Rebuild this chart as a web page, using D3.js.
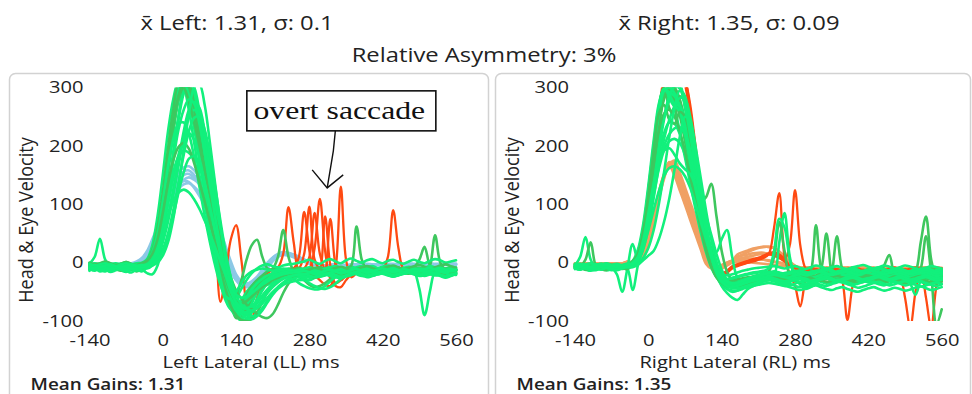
<!DOCTYPE html>
<html>
<head>
<meta charset="utf-8">
<script src="https://cdn.jsdelivr.net/npm/d3@7"></script>
<style>
  html, body { margin: 0; padding: 0; background: #fff; }
  svg { display: block; }
</style>
</head>
<body>
<svg id="chart" width="972" height="394"></svg>
<script>
// ---- sample grid (ms) shared by every trace ----
const timeMs = [-140,-130,-120,-110,-100,-90,-80,-70,-60,-50,-40,
  -30,-20,-10,0,10,20,30,40,50,60,
  70,80,90,100,110,120,130,140,150,160,
  170,180,190,200,210,220,230,240,250,260,
  270,280,290,300,310,320,330,340,350,360,
  370,380,390,400,410,420,430,440,450,460,
  470,480,490,500,510,520,530,540,550,560];

const xTickValues = [-140, 0, 140, 280, 420, 560];
const yTickValues = [-100, 0, 100, 200, 300];

const headerLeft = "x̄ Left: 1.31, σ: 0.1";
const headerRight = "x̄ Right: 1.35, σ: 0.09";
const headerAsymmetry = "Relative Asymmetry: 3%";
const meanGains = [1.31, 1.35];
const axisTitles = ["Left Lateral (LL) ms", "Right Lateral (RL) ms"];
const velocityTitle = "Head & Eye Velocity";
const noteText = "overt saccade";

// ---- Left lateral impulses: head velocity (deg/s) ----
const leftHead = [
  [-3,-2,-3,-4,-2,-3,-4,-3,-2,-1,2, 12,30,55,80,104,124,140,150,152,145, 135,120,100,75,45,15,-10,-28,-38,-40, -36,-28,-15,-2,8,14,16,15,12,8, 4,0,-3,-5,-5,-4,-3,-4,-5,-4, -3,-2,-3,-4,-3,-2,-3,-4,-3,-2, -2,-3,-4,-3,-2,-3,-4,-3,-2,-2],
  [-2,-4,-3,-2,-3,-5,-3,-2,-4,-2,3, 15,35,62,90,115,138,155,163,165,158, 146,128,105,78,48,18,-8,-26,-36,-38, -34,-26,-14,-2,9,15,18,17,14,10, 5,1,-2,-4,-5,-5,-4,-3,-4,-5, -4,-3,-2,-3,-4,-3,-2,-2,-3,-4, -3,-2,-3,-4,-3,-2,-2,-3,-4,-3],
  [-4,-3,-5,-4,-3,-4,-5,-4,-3,-2,0, 8,24,46,70,92,112,126,134,136,130, 120,106,88,66,40,14,-10,-26,-34,-36, -33,-26,-16,-5,5,11,13,12,9,5, 2,-2,-4,-6,-6,-5,-4,-5,-6,-5, -4,-3,-4,-5,-4,-3,-4,-5,-4,-3, -3,-4,-5,-4,-3,-4,-5,-4,-3,-3],
  [-3,-4,-3,-2,-4,-3,-2,-4,-3,-2,-1, 5,18,40,65,90,112,130,142,146,142, 134,120,102,80,55,28,2,-20,-32,-38, -38,-32,-22,-10,2,10,14,15,13,9, 5,1,-2,-4,-5,-4,-4,-5,-4,-3, -3,-4,-5,-4,-3,-3,-4,-5,-4,-3, -3,-4,-3,-3,-4,-5,-4,-3,-3,-4],
  [-2,-3,-2,-3,-4,-2,-3,-4,-2,-1,4, 16,36,60,86,110,132,148,156,158,150, 138,122,100,74,44,14,-12,-30,-40,-42, -38,-30,-18,-5,6,13,16,16,13,9, 5,1,-2,-4,-5,-4,-3,-4,-5,-4, -3,-3,-4,-4,-3,-2,-3,-4,-3,-3, -2,-3,-4,-3,-3,-3,-4,-3,-2,-3],
  [-3,-2,-4,-3,-2,-3,-4,-2,-1,2,8, 20,40,62,84,104,120,132,140,138,128, 114,98,80,58,34,8,-15,-30,-37,-37, -32,-24,-12,0,8,12,14,13,10,6, 2,-1,-3,-5,-5,-4,-3,-4,-5,-4, -3,-2,-3,-4,-3,-2,-3,-4,-3,-2, -2,-3,-4,-3,-2,-3,-4,-3,-2,-2]
];

// ---- Left lateral impulses: eye velocity, impulses flagged with saccades ----
const leftSaccade = [
  [-6,-8,-5,-7,-9,-6,-4,-7,-8,-5,-3, 2,15,45,100,170,240,290,310,300,275, 240,200,150,60,-67,-20,40,64,5,-70, -95,-60,-30,-18,-12,-8,15,95,35,-15, -18,-14,-12,-15,-17,-13,-11,-14,-16,-13, -10,-12,-15,-13,-10,-12,10,90,25,-12, -14,-11,-13,-15,-12,-10,-13,-15,-12,-14],
  [-8,-5,-9,-7,-4,-6,-9,-8,-5,-7,-6, -1,12,40,92,162,230,282,305,295,260, 205,150,95,45,-5,-42,-68,-80,-75,-62, -48,-38,-30,-24,-20,-16,-14,-12,-10,10, 87,20,-20,-30,-38,-40,-10,130,5,-25, -18,-14,-12,-15,-17,-13,-11,-14,-16,-13, -11,-14,-16,-13,-10,-12,-15,-13,-11,-14],
  [-10,-7,-11,-8,-6,-9,-12,-9,-7,-10,-8, -3,10,35,88,158,228,280,302,292,255, 200,145,92,42,-8,-45,-70,-85,-80,-66, -52,-40,-32,-26,-22,-18,-16,-14,-12,-10, 15,96,5,-10,79,-5,-35,-30,-18,-14, -16,-13,-11,-14,-16,-13,-11,-13,-15,-12, -10,-13,-15,-12,-10,-12,-14,-12,-10,-13],
  [-5,-7,-4,-6,-8,-5,-3,-6,-7,-4,-2, 3,18,48,102,172,242,292,312,302,265, 210,155,100,50,2,-38,-64,-78,-72,-58, -45,-35,-28,-22,-18,-15,-13,-11,-10,-12, -14,-10,25,109,20,-28,-40,-42,-30,-20, -15,-13,-11,-14,-16,-13,-11,-14,-15,-12, -10,-13,-15,-12,-10,-12,-14,-12,-10,-13],
  [-7,-9,-6,-8,-10,-7,-5,-8,-9,-6,-4, 0,14,42,96,166,236,286,308,298,262, 206,152,98,46,-4,-40,-66,-80,-76,-62, -48,-37,-29,-23,-19,-16,-14,-12,-11,-12, -10,10,85,15,-10,75,-5,-30,-22,-16, -14,-12,-15,-17,-14,-12,-14,-16,-13,-11, -12,-14,-16,-13,-11,-13,-15,-13,-11,-12]
];

// ---- Left lateral impulses: eye velocity ----
const leftEye = [
  [-5,-3,-6,-4,-8,-5,-3,-6,-4,-5,-2, 3,15,45,100,170,240,290,315,300,255, 200,145,95,45,0,-40,-70,-85,-80,-65, -50,-38,-30,-24,-20,-18,-15,-14,-16,-14, -12,-15,-18,-14,-10,-12,-15,-13,-10,-12, -14,-12,-10,-13,-15,-12,-10,-14,-16,-12, -10,-14,-18,-12,-10,-15,-13,-11,-14,-12],
  [-8,-10,-7,-12,-9,-8,-11,-7,-10,-8,-5, 5,30,80,150,225,280,310,300,260,205, 150,100,50,5,-35,-65,-80,-78,-65,-50, -40,-32,-26,-22,-20,-17,-19,-22,-18,-15, -17,-20,-16,-13,-15,-18,-20,-17,-14,-16, -18,-15,-13,-16,-19,-17,-14,-12,-15,-18, -16,-13,-12,-16,-20,-17,-14,-15,-18,-16],
  [-2,10,41,5,-6,-3,-5,-2,-4,-6,-8, -5,0,20,60,120,190,250,295,310,290, 245,190,130,75,25,-20,-55,-80,-95,-88, -70,-50,-35,-25,-18,-15,-12,-10,-12,-15, -18,-22,-20,-15,-10,-8,-10,-12,-9,-7, -10,-12,-8,-6,-9,-11,-10,-8,-12,-10, -8,-11,-14,-10,-7,-9,-12,-10,-8,-10],
  [-10,-14,-9,-12,-15,-10,-13,-16,-12,-9,-12, -18,-20,-5,40,110,185,250,300,315,280, 230,175,115,60,10,-35,-68,-90,-100,-95, -80,-62,-45,-32,-25,-20,-18,-20,-22,-25, -28,-30,-26,-20,-16,-14,-18,-20,-17,-14, -16,-19,-22,-18,-14,-16,-20,-22,-18,-15, -17,-20,-18,-15,-19,-22,-20,-17,-19,-21],
  [-3,-6,-4,-2,-5,-7,-3,-1,-4,-6,-3, 0,12,40,95,165,235,285,305,295,250, 195,140,90,40,-5,-40,-60,-55,-30,5, 30,39,10,-10,-12,-10,-12,-14,-11,-9, -12,-14,-10,-8,-11,-13,-10,-9,-12,-14, -11,-9,-12,-15,-12,-10,-13,-11,-9,-12, -14,-11,-9,-13,-15,-12,-10,-13,-11,-12],
  [-12,-9,-13,-10,-8,-11,-14,-10,-12,-15,-11, -8,5,30,85,155,225,280,310,305,270, 215,160,105,55,5,-30,-58,-75,-70,-55, -40,-30,-22,-15,-10,10,56,10,-15,-22, -30,-38,-42,-40,-35,-28,-20,-18,-20,-16, -14,-17,-20,-16,-13,-15,-18,-16,-14,-17, -19,-16,-14,-18,-20,-17,-15,-18,-16,-19],
  [-6,-8,-5,-9,-7,-4,-8,-10,-6,-5,-7, -4,8,35,90,160,230,280,300,290,245, 190,135,85,35,-10,-45,-72,-88,-85,-70, -55,-42,-32,-25,-20,-16,-14,-12,-15,-18, -20,-17,-14,-12,-15,-18,-16,-13,-11,-5, 62,5,-12,-15,-13,-10,-12,-14,-11,-9, -12,-14,-11,-9,-12,-15,-13,-10,-12,-14],
  [-9,-11,-8,-6,-10,-12,-9,-7,-10,-13,-9, -6,6,32,88,158,228,282,312,300,258, 205,150,98,48,0,-38,-65,-82,-88,-80, -66,-50,-38,-30,-24,-20,-18,-16,-18,-20, -22,-19,-16,-14,-17,-20,-18,-15,-13,-16, -18,-15,-13,-16,-18,-14,-12,-15,-17,-14, -12,-16,-45,-90,-50,-15,-12,-16,-14,-12],
  [-7,-4,-8,-11,-6,-3,-7,-9,-5,-8,-6, -2,10,38,92,162,232,284,306,296,252, 198,142,92,42,-3,-42,-70,-95,-92,-78, -60,-45,-34,-26,-21,-17,-15,-13,-14,-16, -14,-12,-15,-17,-14,-11,-13,-16,-18,-15, -12,-14,-17,-15,-12,-10,-13,-15,-12,-10, -10,-8,5,27,-5,47,0,-12,-10,-13],
  [-4,-7,-10,-6,-3,-6,-9,-5,-7,-10,-8, -10,-5,10,50,110,180,245,290,312,300, 260,205,150,95,40,-10,-50,-80,-95,-98, -85,-65,-48,-35,-27,-22,-20,-18,-17,-19, -21,-24,-22,-18,-15,-17,-19,-16,-14,-17, -19,-16,-14,-17,-20,-18,-15,-13,-16,-19, -17,-14,-16,-19,-17,-14,-16,-18,-15,-13],
  [-11,-13,-10,-14,-12,-9,-12,-15,-11,-13,-10, -6,8,38,95,168,238,288,308,292,248, 192,138,88,38,-8,-45,-70,-82,-75,-60, -45,-35,-28,-22,-18,-15,-13,-20,-28,-35, -40,-44,-46,-45,-40,-32,-24,-18,-15,-13, -15,-18,-16,-13,-11,-14,-17,-15,-12,-14, -16,-13,-11,-14,-17,-15,-12,-14,-16,-13],
  [-1,-4,-2,0,-3,-5,-2,1,-3,-1,0, 6,22,55,115,190,258,300,310,280,230, 175,120,70,22,-20,-50,-65,-60,-45,-30, -18,-10,-5,-3,-6,-8,-5,-3,-2,0, 2,5,1,-2,3,6,2,-1,4,7, 3,0,4,6,2,-1,3,5,1,-2, 2,5,1,-1,3,6,4,0,2,4],
  [-14,-10,-15,-12,-16,-13,-10,-14,-17,-12,-15, -8,15,50,110,180,250,295,310,290,240, 185,130,75,25,-25,-60,-80,-90,-85,-72, -58,-45,-35,-28,-22,-19,-17,-15,-17,-19, -17,-15,-18,-20,-18,-16,-14,-17,-19,-16, -14,-16,-19,-21,-18,-15,-17,-20,-18,-15, -17,-19,-16,-14,-17,-20,-18,-16,-19,-17],
  [-6,-9,-12,-8,-5,-8,-11,-7,-4,-7,-5, -8,0,15,40,80,125,175,225,262,275, 265,225,170,110,50,0,-40,-65,-75,-70, -60,-48,-38,-30,-24,-20,-17,-15,-14,-16, -17,-14,-12,-15,-17,-14,-11,-13,-15,-12, -10,-13,-15,-12,-10,-12,-14,-11,-9,-12, -14,-12,-10,-12,-14,-16,-13,-11,-13,-12],
  [-7,-5,-9,-6,-4,-7,-10,-8,-5,-3,-6, -2,12,42,98,168,236,286,308,300,262, 210,150,95,45,-5,-45,-75,-90,-98,-100, -96,-85,-68,-50,-38,-30,-25,-22,-20,-18, -20,-23,-26,-24,-20,-17,-15,-13,-15,-17, -15,-12,-10,-13,-16,-14,-11,-9,-12,-15, -13,-10,-13,-16,-14,-11,-9,-12,-14,-11],
  [-4,-6,-3,-5,-7,-4,-2,-5,-7,-4,-3, -2,8,28,60,100,145,185,212,222,210, 180,140,95,50,8,-30,-58,-75,-85,-90, -92,-88,-78,-65,-52,-42,-34,-28,-24,-22, -20,-18,-21,-24,-22,-19,-17,-20,-23,-21, -18,-16,-19,-22,-20,-17,-15,-18,-21,-19, -16,-19,-22,-20,-17,-15,-18,-21,-19,-17],
  [-9,-7,-10,-12,-8,-6,-9,-11,-8,-10,-7, -5,0,12,35,70,115,165,215,250,262, 245,205,155,100,45,-5,-45,-70,-82,-85, -80,-70,-58,-46,-36,-28,-22,-20,-22,-25, -27,-24,-21,-18,-20,-23,-25,-22,-19,-17, -20,-23,-21,-18,-16,-19,-22,-24,-21,-18, -16,-19,-22,-20,-17,-19,-22,-25,-22,-19],
  [-3,-1,-4,-6,-3,-1,-4,-6,-3,-2,-1, 0,10,32,70,115,155,182,192,188,178, 172,160,125,75,25,-20,-50,-65,-68,-62, -55,-48,-42,-38,-34,-30,-26,-22,-20,-18, -16,-14,-17,-19,-16,-13,-11,-14,-17,-15, -12,-10,-13,-16,-14,-11,-9,-12,-15,-13, -10,-13,-16,-14,-11,-9,-12,-15,-13,-11],
  [-5,-8,-6,-3,-6,-9,-7,-4,-6,-8,-4, 4,22,60,120,195,262,305,300,275,240, 200,160,118,78,40,5,-25,-48,-62,-72, -80,-88,-93,-95,-88,-72,-52,-36,-26,-20, -18,-21,-24,-22,-19,-17,-20,-23,-21,-18, -16,-19,-22,-20,-17,-15,-18,-21,-19,-16, -14,-17,-20,-18,-15,-13,-16,-19,-17,-15],
  [-12,-10,-13,-15,-11,-9,-12,-14,-11,-13,-9, 2,18,50,105,165,212,238,240,220,180, 130,80,35,-5,-38,-58,-62,-50,-35,-22, -15,-12,-10,-12,-14,-12,-10,-12,-14,-12, -10,-8,-11,-13,-10,-8,-6,-9,-12,-10, -8,-6,-9,-12,-10,-7,-5,-8,-11,-9, -7,-10,-12,-9,-6,-8,-11,-13,-10,-8],
  [-6,-4,-7,-9,-6,-3,-5,-8,-6,-4,-6, -3,6,25,62,115,175,228,262,280,272, 238,188,132,78,28,-15,-48,-72,-88,-95, -97,-92,-82,-68,-55,-45,-38,-34,-32,-30, -30,-35,-40,-44,-45,-42,-36,-28,-22,-18, -16,-19,-22,-20,-17,-15,-18,-21,-19,-16, -14,-17,-20,-23,-20,-17,-15,-18,-21,-19],
  [0,-3,-1,2,-1,-4,-2,1,-2,-4,-1, 3,15,40,85,135,175,198,205,195,170, 138,105,70,35,2,-28,-52,-66,-70,-66, -58,-50,-42,-36,-30,-26,-22,-20,-18,-17, -15,-12,-9,-11,-14,-12,-9,-7,-10,-13, -11,-8,-6,-9,-12,-10,-7,-5,-8,-11, -9,-6,-4,-7,-10,-8,-5,-3,-6,-9],
  [-10,-8,-11,-13,-10,-7,-10,-12,-9,-11,-8, -6,-4,5,22,50,90,138,185,225,248, 250,228,185,130,72,18,-25,-55,-72,-80, -82,-78,-70,-60,-50,-42,-35,-30,-27,-25, -23,-26,-24,-21,-19,-22,-25,-27,-24,-21, -19,-22,-25,-23,-20,-18,-21,-24,-22,-19, -17,-20,-23,-21,-18,-20,-23,-26,-23,-20],
  [-8,-10,-7,-9,-12,-9,-6,-8,-11,-9,-7, -8,-5,0,12,35,75,130,195,255,300, 305,270,205,135,65,5,-40,-68,-82,-88, -85,-76,-64,-52,-42,-34,-28,-24,-22,-20, -19,-22,-25,-23,-20,-18,-21,-24,-22,-19, -17,-20,-23,-21,-18,-16,-19,-22,-20,-17, -15,-18,-21,-19,-16,-18,-21,-24,-21,-18],
  [-2,-5,-3,-1,-4,-6,-3,-1,-3,-5,-4, -6,-2,6,20,45,80,120,155,178,182, 165,135,95,55,15,-22,-50,-68,-76,-78, -74,-66,-56,-46,-38,-32,-27,-24,-22,-21, -20,-17,-14,-16,-19,-17,-14,-12,-15,-18, -16,-13,-11,-14,-17,-15,-12,-10,-13,-16, -14,-11,-13,-16,-14,-11,-9,-12,-15,-13],
  [-6,-4,-7,-5,-3,-6,-8,-5,-3,-6,-4, -4,4,20,48,80,105,120,125,120,108, 92,72,50,26,2,-22,-42,-55,-60,-58, -52,-45,-38,-32,-27,-23,-20,-18,-17,-16, -14,-16,-19,-17,-14,-12,-15,-18,-16,-13, -11,-14,-17,-15,-12,-10,-13,-16,-14,-11, -13,-16,-14,-11,-9,-12,-15,-17,-14,-12]
];

// ---- Right lateral impulses: head velocity ----
const rightHead = [
  [-2,-3,-1,-2,-3,-2,-1,-2,-3,-1,0, 0,3,12,40,80,120,150,165,149,124, 99,73,48,23,-2,-10,-8,-4,0,3, 5,6,7,7,6,5,3,1,0,-2, -5,-8,-10,-9,-8,-10,-12,-11,-9,-10, -12,-11,-9,-10,-12,-13,-11,-10,-12,-13, -11,-9,-10,-12,-11,-9,-8,-10,-12,-11],
  [-1,-2,-3,-2,-1,-2,-3,-2,-1,-2,1, 0,3,12,40,80,120,152,168,154,129, 104,78,53,28,3,-9,-9,-5,0,3, 9,12,14,16,17,17,15,12,8,3, -3,-7,-9,-8,-10,-12,-10,-8,-9,-11, -10,-8,-9,-11,-12,-10,-9,-11,-13,-12, -10,-9,-11,-12,-10,-8,-9,-11,-12,-10],
  [-3,-2,-1,-3,-2,-1,-2,-3,-2,-1,0, 0,2,10,36,76,116,150,170,159,134, 109,83,58,33,8,-8,-10,-6,-1,3, 3,2,1,0,-1,-2,-3,-4,-5,-6, -7,-8,-10,-12,-11,-9,-10,-12,-13,-11, -9,-10,-12,-13,-11,-9,-10,-12,-11,-9, -10,-12,-13,-11,-9,-10,-12,-13,-11,-10],
  [-2,-1,-2,-3,-1,-2,-3,-1,-2,-3,1, 0,2,10,36,76,116,150,172,164,139, 114,88,63,38,13,-5,-10,-7,-2,2, 14,18,21,24,26,27,27,25,18,8, 0,-6,-9,-11,-10,-8,-9,-11,-12,-10, -8,-9,-11,-12,-10,-8,-9,-11,-12,-10, -9,-11,-12,-10,-8,-9,-11,-12,-10,-9],
  [-1,-3,-2,-1,-2,-3,-2,-1,-3,-2,1, 0,2,9,33,72,112,148,172,168,144, 119,93,68,43,18,-3,-10,-8,-3,2, 0,2,3,4,5,5,4,2,0,-3, -6,-9,-11,-10,-8,-9,-11,-13,-12,-10, -11,-13,-12,-10,-9,-11,-13,-12,-10,-11, -13,-12,-10,-9,-11,-13,-12,-10,-11,-12],
  [-2,-3,-1,-2,-3,-1,-2,-3,-1,-2,2, 0,1,8,30,70,110,146,170,172,149, 124,98,73,48,23,0,-9,-9,-4,1, 10,14,18,22,25,27,27,25,19,11, 2,-5,-8,-10,-9,-8,-10,-12,-11,-9, -10,-12,-11,-9,-8,-10,-12,-11,-9,-10, -12,-11,-9,-8,-10,-12,-11,-9,-10,-11],
  [-3,-1,-2,-3,-2,-1,-3,-2,-1,-2,2, 0,1,8,30,68,108,144,168,175,154, 129,103,78,53,28,4,-8,-10,-5,0, 6,8,10,12,14,15,15,13,9,3, -4,-7,-9,-11,-10,-8,-9,-11,-12,-10, -9,-11,-12,-10,-9,-11,-12,-10,-9,-10, -11,-12,-10,-9,-11,-12,-10,-9,-10,-11]
];

// ---- Right lateral impulses: eye velocity, impulses flagged with saccades ----
const rightSaccade = [
  [-5,-8,-6,-4,-7,-9,-5,-3,-6,-8,-5, 0,12,45,100,170,245,310,345,330,335, 315,270,200,130,60,15,-10,-20,-15,-8, -5,-2,0,2,5,8,15,60,119,10, -20,-40,-75,-30,-10,-12,-15,-13,-10,-12, -14,-11,-9,-12,-15,-13,-10,-12,-14,-11, -9,-12,-15,-13,-10,-12,-14,-11,-9,-12],
  [-7,-5,-8,-10,-6,-4,-7,-9,-6,-4,-7, 2,15,50,108,180,255,318,340,325,332, 305,250,185,120,55,12,-12,-22,-18,-10, -6,-3,0,3,6,10,14,16,12,5, 30,124,30,-10,-18,-15,-12,-14,-16,-13, -30,-98,-40,-15,-12,-14,-16,-13,-11,-14, -16,-13,-11,-14,-16,-13,-11,-13,-15,-12],
  [-6,-9,-7,-5,-8,-10,-7,-5,-8,-6,-4, -1,10,40,95,162,238,305,342,320,325, 310,258,190,125,58,14,-8,-18,-14,-6, -3,0,3,6,8,12,16,18,14,6, -5,-10,-12,-15,-13,-11,-14,-16,-13,-11, -13,-15,-12,-10,-13,-15,-12,-10,-12,-14, -12,-20,-60,-110,-50,-10,-60,-110,-40,-10],
  [-4,-7,-5,-8,-6,-3,-6,-8,-5,-7,-4, 1,14,48,104,175,250,312,348,338,335, 315,262,195,128,58,12,-10,-20,-16,-8, -4,-1,2,5,8,11,14,12,8,2, -6,-10,-13,-11,-9,-12,-14,-11,-9,-12, -14,-11,-9,-12,-14,-11,-9,-11,-13,-10, -8,-11,-13,-10,-8,-11,-13,-10,-8,-10]
];

// ---- Right lateral impulses: eye velocity ----
const rightEye = [
  [-5,10,44,5,-8,-6,-4,-7,-9,-6,-4, 0,5,35,80,150,230,295,290,265,225, 180,135,92,52,18,-8,-25,-32,-35,-33, -30,-28,-26,-25,-24,-22,-20,-18,-20,-22, -24,-21,-19,-22,-25,-23,-20,-18,-21,-24, -22,-19,-17,-20,-23,-21,-18,-20,-23,-25, -22,-20,-18,-21,-24,-22,-19,-21,-23,-20],
  [-8,-6,-10,-7,-5,-8,-11,-6,-4,-7,-9, -4,8,40,95,155,210,250,278,298,305, 265,205,145,90,45,8,-18,-34,-42,-40, -36,-32,-30,-28,-26,-24,-22,-25,-28,-30, -27,-24,-22,-25,-28,-30,-27,-24,-22,-25, -28,-30,-27,-25,-28,-31,-29,-26,-24,-27, -30,-28,-25,-27,-30,-32,-29,-26,-28,-30],
  [-10,-7,5,35,-5,-9,-12,-8,-6,-10,-8, -2,12,50,115,190,260,300,265,250,285, 275,215,150,105,112,135,80,20,-15,-30, -35,-33,-30,-28,-25,-22,-20,-22,-25,-28, -30,-27,-24,-21,-24,-27,-25,-22,-20,-23, -26,-24,-21,-19,-22,-25,-23,-20,-22,-25, -23,-20,-22,-25,-27,-24,-21,-23,-26,-24],
  [-6,-9,-5,-8,-10,-7,-5,-9,-20,-50,-10, 32,5,38,100,175,245,290,298,285,258, 212,162,112,66,26,-4,-24,-38,-45,-50, -48,-42,-36,-30,-27,-25,-22,-20,-23,-26, -28,-31,-35,-40,-38,-33,-28,-25,-27,-30, -32,-29,-26,-28,-31,-34,-31,-28,-26,-29, -32,-35,-31,-28,-30,-33,-36,-32,-29,-31],
  [-4,-6,-8,-5,-3,-6,-9,-7,-4,-6,-10, -47,-5,30,95,170,242,288,302,292,262, 218,168,118,72,28,-2,-18,-28,-30,-28, -25,-22,-20,-18,-17,-15,-16,-18,-20,-18, -16,-14,-17,-20,-18,-15,-13,-16,-19,-17, -15,-12,-14,-17,-15,-12,-10,-13,-16,-14, -12,-15,-17,-14,-11,-13,-16,-14,-12,-15],
  [-9,-7,-11,-8,-6,-9,-12,-10,-7,-9,-6, 0,15,55,120,195,265,298,282,268,272, 242,192,142,96,55,25,18,40,56,10, -25,-30,-28,-25,-22,-20,-18,-20,35,85, 10,-20,-25,-22,-20,-23,-26,-24,-21,-19, -22,-25,-23,-20,-18,-21,-24,-22,-19,-17, -20,-23,-21,-18,-20,-23,-25,-22,-19,-21],
  [-7,-10,-6,-9,-11,-8,-6,-10,-8,-5,-7, -3,10,45,108,182,252,292,296,280,252, 208,158,108,62,22,-6,-22,-30,-33,-31, -29,-27,-25,-24,-22,-20,-15,10,70,20, -20,-24,-22,-25,-15,64,-10,-25,-22,-20, -23,-26,-24,-21,-19,-22,-25,-23,-20,-18, -21,-24,-22,-19,-21,-24,-26,-23,-20,-22],
  [-5,-8,-11,-7,-4,-7,-10,-6,-8,-11,-9, -5,5,32,90,165,235,280,300,298,275, 235,185,135,88,45,12,-12,-28,-36,-38, -35,-32,-29,-27,-25,-23,-21,-19,-21,-24, -22,-20,-18,-22,-25,-23,-10,50,-15,45, -10,-22,-26,-24,-21,-19,-22,-25,-23,-20, -18,-21,-24,-22,-19,-21,-24,-26,-23,-20],
  [-6,-4,-7,-10,-8,-5,-3,-6,-9,-7,-5, 0,18,58,125,200,268,300,290,275,262, 225,175,125,80,38,5,-16,-28,-34,-35, -33,-30,-27,-24,-22,-20,-18,-17,-19,-21, -23,-21,-19,-22,-24,-22,-20,-18,-20,-22, -24,-22,-20,-18,-21,-24,-22,-19,-5,13, -20,-25,-22,-20,-15,35,79,5,-25,-30],
  [-8,-6,-9,-12,-9,-6,-8,-11,-9,-6,-8, -6,4,30,88,160,232,285,305,300,280, 240,190,138,90,48,14,-10,-26,-35,-38, -36,-33,-30,-28,-26,-24,-22,-24,-27,-29, -27,-25,-28,-31,-29,-26,-24,-27,-30,-28, -26,-29,-32,-30,-27,-25,-28,-31,-29,-26, -24,-27,-30,-28,-25,-10,45,-20,-105,-80],
  [-10,-8,-12,-9,-7,-10,-13,-11,-8,-10,-7, -1,14,52,118,192,258,296,292,285,270, 245,195,145,95,50,10,-20,-40,-52,-60, -64,-55,-45,-40,-36,-32,-30,-28,-30,-33, -36,-40,-42,-38,-34,-31,-33,-36,-34,-31, -29,-32,-35,-33,-30,-28,-31,-34,-32,-29, -27,-30,-33,-31,-28,-30,-33,-35,-32,-30],
  [-3,-6,-4,-7,-9,-5,-2,-5,-8,-6,-3, 3,22,65,132,208,272,298,285,270,258, 220,170,122,78,38,6,-14,-24,-28,-26, -24,-22,-20,-18,-16,-14,-10,20,75,60, 5,-25,-38,-45,-42,-35,-28,-24,-20,-17, -19,-22,-20,-17,-15,-18,-21,-19,-16,-14, -17,-20,-18,-15,-17,-20,-22,-19,-16,-18],
  [-2,-5,-3,-6,-8,-4,-1,-4,-7,-5,-2, -6,2,25,75,140,200,250,285,302,300, 270,215,160,108,60,22,-5,-18,-22,-20, -17,-14,-12,-10,-9,-8,-7,-6,-8,-10, -8,-6,-9,-11,-8,-5,-7,-10,-8,-6, -9,-11,-8,-6,-4,-7,-10,-8,-5,-7, -10,-8,-5,-7,-10,-12,-9,-6,-8,-10],
  [-9,-12,-8,-11,-13,-10,-7,-10,-12,-9,-11, -3,12,48,112,186,254,294,300,290,265, 225,175,125,80,40,6,-18,-34,-44,-48, -48,-45,-42,-40,-38,-36,-35,-36,-38,-40, -42,-45,-47,-44,-41,-39,-42,-45,-47,-44, -42,-45,-48,-50,-47,-44,-42,-45,-48,-46, -43,-45,-48,-46,-43,-41,-44,-47,-45,-42],
  [-7,-5,-8,-6,-4,-7,-9,-6,-5,-8,-6, 1,16,55,122,196,262,298,288,272,268, 238,188,138,92,50,16,-8,-22,-28,-27, -24,-21,-19,-17,-16,-15,-17,-19,-21,-19, -17,-20,-22,-19,-16,-14,-17,-20,-18,-15, -13,-16,-19,-17,-14,-12,-15,-18,-16,-13, -11,-15,-20,-35,-55,-30,-15,-18,-20,-16],
  [-6,-8,-5,-7,-10,-8,-5,-7,-9,-6,-8, 0,8,35,80,135,185,222,240,238,220, 190,150,108,68,30,0,-20,-32,-38,-40, -38,-35,-32,-30,-28,-26,-24,-26,-29,-31, -29,-26,-24,-27,-30,-28,-25,-23,-26,-29, -27,-24,-22,-25,-28,-26,-23,-21,-24,-27, -25,-22,-25,-28,-26,-23,-21,-24,-27,-25],
  [-3,-5,-8,-6,-3,-5,-7,-4,-2,-5,-7, -2,5,28,68,115,160,192,208,212,205, 185,155,118,78,40,8,-15,-28,-34,-35, -33,-30,-27,-24,-21,-19,-17,-15,-17,-19, -17,-15,-13,-16,-18,-15,-12,-10,-13,-16, -14,-11,-9,-12,-15,-13,-10,-8,-11,-14, -12,-10,-13,-16,-14,-11,-9,-12,-15,-13],
  [-8,-11,-9,-6,-8,-11,-13,-10,-7,-9,-6, 2,15,52,115,190,255,270,245,238,258, 250,210,158,105,58,20,-8,-25,-32,-34, -34,-32,-30,-28,-27,-26,-28,-30,-32,-30, -28,-31,-34,-32,-29,-27,-30,-33,-31,-28, -26,-29,-32,-35,-33,-30,-28,-31,-34,-32, -29,-32,-35,-33,-30,-28,-31,-34,-36,-33],
  [-5,-3,-6,-8,-5,-2,-4,-7,-9,-6,-4, -4,2,22,60,110,165,212,245,268,282, 280,250,200,145,90,40,2,-22,-35,-40, -42,-40,-38,-36,-34,-32,-30,-32,-35,-37, -39,-36,-33,-30,-32,-35,-38,-40,-37,-34, -32,-35,-38,-36,-33,-31,-34,-37,-39,-36, -33,-36,-39,-37,-34,-32,-35,-38,-40,-37],
  [-11,-9,-12,-14,-11,-8,-10,-13,-11,-9,-10, -1,6,30,72,122,168,200,220,230,232, 220,192,150,112,80,48,15,-12,-30,-38, -40,-38,-35,-32,-29,-27,-25,-23,-25,-27, -25,-22,-20,-23,-26,-24,-21,-19,-22,-25, -23,-20,-18,-21,-24,-22,-19,-17,-20,-23, -21,-18,-21,-24,-22,-19,-17,-20,-23,-21],
  [-7,-9,-12,-10,-7,-9,-11,-8,-6,-9,-11, 1,12,45,100,165,225,255,262,250,225, 190,148,105,62,25,-5,-25,-35,-40,-42, -41,-39,-36,-33,-30,-28,-26,-24,-26,-28, -30,-28,-25,-23,-26,-29,-31,-28,-25,-23, -25,-28,-30,-27,-24,-22,-25,-28,-30,-27, -24,-27,-30,-28,-25,-23,-26,-29,-31,-28],
  [-4,-6,-3,-1,-4,-6,-3,-5,-7,-4,-2, -3,4,26,70,128,190,245,282,302,298, 268,218,160,105,55,15,-12,-28,-36,-38, -36,-33,-30,-27,-24,-21,-19,-17,-19,-21, -19,-17,-15,-18,-20,-17,-14,-12,-15,-18, -16,-13,-11,-14,-17,-15,-12,-10,-13,-16, -14,-11,-14,-17,-15,-12,-10,-13,-16,-14],
  [-9,-7,-10,-12,-9,-7,-9,-12,-10,-8,-6, 0,10,38,84,135,172,192,196,185,170, 160,152,130,95,55,18,-10,-26,-34,-36, -35,-33,-31,-29,-27,-25,-23,-21,-23,-25, -27,-30,-33,-36,-34,-31,-28,-26,-29,-32, -34,-37,-40,-43,-41,-38,-35,-33,-36,-39, -37,-34,-32,-35,-38,-41,-39,-36,-34,-37],
  [-7,-5,-8,-10,-7,-4,-6,-9,-7,-5,-8, -6,-2,8,25,55,100,155,215,265,295, 285,235,170,110,55,12,-18,-34,-40,-42, -40,-37,-34,-31,-29,-27,-25,-27,-30,-32, -30,-27,-25,-28,-31,-29,-26,-24,-27,-30, -28,-25,-23,-26,-29,-27,-24,-22,-25,-28, -26,-23,-26,-29,-27,-24,-22,-25,-28,-26],
  [-4,-2,-5,-7,-4,-2,-5,-7,-4,-6,-3, -2,6,25,55,90,122,148,162,165,160, 148,128,100,70,40,12,-10,-24,-32,-35, -34,-31,-28,-25,-22,-20,-18,-16,-18,-20, -18,-16,-19,-22,-20,-17,-15,-18,-21,-19, -17,-15,-18,-21,-19,-16,-14,-17,-20,-18, -16,-14,-17,-20,-18,-15,-13,-16,-19,-17],
  [-10,-12,-9,-7,-10,-12,-9,-11,-13,-10,-8, -8,-4,4,12,20,40,70,110,160,215, 250,240,190,130,70,20,-15,-32,-40,-44, -44,-42,-39,-36,-33,-30,-28,-30,-33,-35, -33,-30,-28,-31,-34,-32,-29,-27,-30,-33, -31,-28,-26,-29,-32,-30,-27,-25,-28,-31, -29,-26,-29,-32,-30,-27,-25,-28,-31,-29]
];

// traces drawn in the duller green
const dullLeft = [4, 5, 6, 8, 14, 18, 21];
const dullRight = [2, 6, 7, 8, 9, 17, 20];

// ---- layout & style ----
const W = 972, H = 394;
const SX = 1.22;                       // horizontal text stretch
const UI = "'Open Sans', 'Noto Sans', sans-serif";
const TEXT = "#222";
const C = {
  eye: "#12F07C", eyeDull: "#3EC75E", sacc: "#FF4A12",
  headL: "#8CC8E6", headR: "#F0A064", frame: "#d2d2d2"
};
const LW = 2.6;

const svg = d3.select("#chart");
svg.append("rect").attr("width", W).attr("height", H).attr("fill", "#fff");

function stretched(sel, x, y, str, o = {}) {
  return sel.append("text")
    .attr("transform", `translate(${x},${y}) scale(${o.sx || SX},1)`)
    .attr("text-anchor", o.anchor || "middle")
    .style("font-family", o.family || UI)
    .style("font-size", (o.size || 16.5) + "px")
    .style("font-weight", o.weight || 400)
    .attr("fill", o.fill || TEXT)
    .text(str);
}

// headers
stretched(svg, 237, 30, headerLeft, { size: 19.5 });
stretched(svg, 729, 30, headerRight, { size: 19.5 });
stretched(svg, 484, 62, headerAsymmetry, { size: 19.5 });

const panels = [
  { id: "L", head: leftHead, sacc: leftSaccade, eye: leftEye, dull: dullLeft, headColor: C.headL,
    frame: [9.5, 488.5], range: [89.5, 456], yTitleX: 26, gain: meanGains[0], title: axisTitles[0] },
  { id: "R", head: rightHead, sacc: rightSaccade, eye: rightEye, dull: dullRight, headColor: C.headR,
    frame: [495.5, 970.5], range: [575, 941.7], yTitleX: 512, gain: meanGains[1], title: axisTitles[1] }
];

const yRange = [321, 87.5];

panels.forEach(p => {
  const g = svg.append("g");
  // panel frame (runs past the bottom edge of the view)
  g.append("rect")
    .attr("x", p.frame[0]).attr("y", 73.5)
    .attr("width", p.frame[1] - p.frame[0]).attr("height", 400)
    .attr("rx", 6).attr("fill", "none")
    .attr("stroke", C.frame).attr("stroke-width", 1.5);

  const x = d3.scaleLinear().domain([-140, 560]).range(p.range);
  const y = d3.scaleLinear().domain([-100, 300]).range(yRange);

  const clipId = "clip" + p.id;
  svg.append("clipPath").attr("id", clipId).append("rect")
    .attr("x", x(-140) - 2).attr("y", y(300))
    .attr("width", x(560) - x(-140) + 4).attr("height", y(-100) - y(300));

  const line = d3.line()
    .defined((d, i) => i < timeMs.length)
    .x((d, i) => x(timeMs[i]))
    .y(d => y(d))
    .curve(d3.curveCatmullRom.alpha(0.5));

  const plot = g.append("g").attr("clip-path", `url(#${clipId})`)
    .attr("fill", "none").attr("stroke-linejoin", "round").attr("stroke-linecap", "round");

  plot.selectAll("path.head").data(p.head).join("path").attr("class", "head")
    .attr("d", line).attr("stroke", p.headColor).attr("stroke-width", LW);
  plot.selectAll("path.sacc").data(p.sacc).join("path").attr("class", "sacc")
    .attr("d", line).attr("stroke", C.sacc).attr("stroke-width", LW - 0.3);
  plot.selectAll("path.eye").data(p.eye).join("path").attr("class", "eye")
    .attr("d", line)
    .attr("stroke", (d, i) => p.dull.includes(i) ? C.eyeDull : C.eye)
    .attr("stroke-width", LW);

  // axes: labels only
  const xAxis = g.append("g").attr("transform", `translate(0,${yRange[0]})`)
    .call(d3.axisBottom(x).tickValues(xTickValues).tickSize(0).tickPadding(13)
      .tickFormat(d => String(d)));
  const yAxis = g.append("g").attr("transform", `translate(${p.range[0]},0)`)
    .call(d3.axisLeft(y).tickValues(yTickValues).tickSize(0).tickPadding(5)
      .tickFormat(d => String(d)));
  [xAxis, yAxis].forEach(a => {
    a.select(".domain").remove();
    a.selectAll("text")
      .attr("transform", `scale(${SX},1)`)
      .style("font-family", UI).style("font-size", "16.5px").attr("fill", TEXT);
  });

  // axis titles
  const midPanel = (p.frame[0] + p.frame[1]) / 2;
  stretched(g, midPanel + 2, 368, p.title);
  g.append("text")
    .attr("transform", `translate(${p.yTitleX},220) rotate(-90) scale(1,1.1)`)
    .attr("text-anchor", "middle").attr("dy", "0.35em")
    .style("font-family", UI).style("font-size", "18px").attr("fill", TEXT)
    .text(velocityTitle);

  stretched(g, p.frame[0] + 21, 390, `Mean Gains: ${p.gain.toFixed(2)}`,
    { anchor: "start", size: 15.5, weight: 600 });

  // callout pointing at the late saccades
  if (p.id === "L") {
    const tip = [x(314), y(128)];
    const box = { cx: x(341), cy: y(260), w: 189, h: 40 };
    const note = g.append("g");
    note.append("rect")
      .attr("x", box.cx - box.w / 2).attr("y", box.cy - box.h / 2)
      .attr("width", box.w).attr("height", box.h)
      .attr("fill", "#fff").attr("stroke", "#111").attr("stroke-width", 1.6);
    stretched(note, box.cx - 2, box.cy + 8, noteText,
      { size: 26, family: "'Liberation Serif', 'Times New Roman', serif", fill: "#111" });
    const top = box.cy + box.h / 2;
    note.append("path")
      .attr("d", `M${box.cx - 6},${top} L${box.cx - 8},${top + 20} L${tip[0] + 3},${tip[1] - 18} L${tip[0]},${tip[1]}`)
      .attr("fill", "none").attr("stroke", "#111").attr("stroke-width", 1.4);
    note.append("path")
      .attr("d", `M${tip[0] - 15},${tip[1] - 18} L${tip[0]},${tip[1]} L${tip[0] + 16},${tip[1] - 13}`)
      .attr("fill", "none").attr("stroke", "#111").attr("stroke-width", 1.4);
  }
});
</script>
</body>
</html>
